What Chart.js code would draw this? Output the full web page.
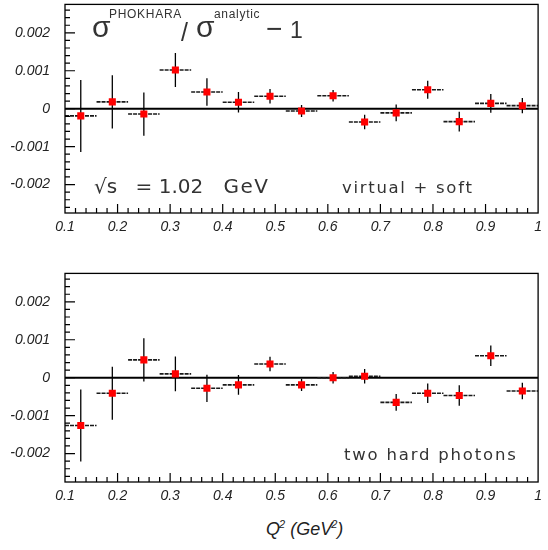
<!DOCTYPE html>
<html>
<head>
<meta charset="utf-8">
<script src="https://cdn.jsdelivr.net/npm/chart.js@4.4.1/dist/chart.umd.min.js"></script>
<style>
    body {
        margin: 0;
        background: #fff;
        width: 548px;
        height: 550px;
        overflow: hidden;
        position: relative;
        font-family: 'DejaVu Sans', sans-serif;
        color: #333;
    }

    canvas {
        position: absolute;
        left: 0;
    }

    #top-canvas {
        top: -19px;
    }

    #bottom-canvas {
        top: 250px;
    }

    .label {
        position: absolute;
        white-space: nowrap;
        line-height: 1;
    }

    .sym {
        font-family: 'Liberation Sans', Arial, sans-serif;
    }
</style>
</head>
<body>
<canvas id="top-canvas" width="548" height="259"></canvas>
<canvas id="bottom-canvas" width="548" height="259"></canvas>

<div class="label sym" style="left: 92px; top: 12px; font-size: 30px;">σ</div>
<div class="label sym" style="left: 109px; top: 8px; font-size: 12px; letter-spacing: 0.7px;">PHOKHARA</div>
<div class="label sym" style="left: 181px; top: 20px; font-size: 25px;">/</div>
<div class="label sym" style="left: 196px; top: 12px; font-size: 30px;">σ</div>
<div class="label sym" style="left: 214px; top: 8px; font-size: 12px; letter-spacing: 0.7px;">analytic</div>
<div class="label sym" style="left: 266px; top: 15px; font-size: 28px;">−</div>
<div class="label sym" style="left: 290px; top: 19px; font-size: 23px;">1</div>

<div class="label" style="left: 94px; top: 176px; font-size: 20px;">√s <span style="margin-left: 12px;">=</span> 1.02 <span style="margin-left: 14px; letter-spacing: 1.5px;">GeV</span></div>
<div class="label" style="left: 342px; top: 180px; font-size: 16.5px; letter-spacing: 1.7px;">virtual + soft</div>
<div class="label" style="left: 344px; top: 447px; font-size: 16.5px; letter-spacing: 1.8px;">two hard photons</div>

<div class="label sym" style="left: 266px; top: 519px; font-size: 18px; font-style: italic; color: #222;">Q<sup style="font-size: 11px; margin-left: -1px;">2</sup> (GeV<sup style="font-size: 11px; margin-left: -1px;">2</sup>)</div>

<script>
let binCenters = [0.13, 0.19, 0.25, 0.31, 0.37, 0.43, 0.49, 0.55, 0.61, 0.67, 0.73, 0.79, 0.85, 0.91, 0.97];
let binHalfWidth = 0.03;

let virtualSoft = [-0.00019, 0.00018, -0.00014, 0.00102, 0.00044, 0.00017, 0.00033, -0.00006, 0.00034, -0.00035, -0.00011, 0.00050, -0.00034, 0.00014, 0.00008];
let virtualSoftErr = [0.00095, 0.00070, 0.00057, 0.00045, 0.00036, 0.00027, 0.00019, 0.00016, 0.00015, 0.00019, 0.00022, 0.00024, 0.00026, 0.00025, 0.00020];

let twoHard = [-0.00126, -0.00041, 0.00047, 0.00010, -0.00028, -0.00019, 0.00036, -0.00019, 0.00000, 0.00004, -0.00065, -0.00041, -0.00047, 0.00058, -0.00035];
let twoHardErr = [0.00095, 0.00070, 0.00057, 0.00046, 0.00036, 0.00026, 0.00019, 0.00016, 0.00015, 0.00019, 0.00022, 0.00026, 0.00027, 0.00027, 0.00022];

let xTickValues = [0.1, 0.2, 0.3, 0.4, 0.5, 0.6, 0.7, 0.8, 0.9, 1];
let xTickLabels = ['0.1', '0.2', '0.3', '0.4', '0.5', '0.6', '0.7', '0.8', '0.9', '1'];
let yTickValues = [-0.002, -0.001, 0, 0.001, 0.002];
let yTickLabels = ['-0.002', '-0.001', '0', '0.001', '0.002'];

let yLimit = 0.00275;


// ROOT style frame with ticks pointing into the plot
const rootFrame = {
    id: 'rootFrame',
    afterDraw(chart) {
        const ctx = chart.ctx;
        const area = chart.chartArea;
        const x = chart.scales.x;
        const y = chart.scales.y;

        ctx.save();
        ctx.strokeStyle = '#000';
        ctx.lineWidth = 1.3;
        ctx.strokeRect(area.left, area.top, area.right - area.left, area.bottom - area.top);

        ctx.lineWidth = 1.2;
        ctx.beginPath();
        for (let k = -13; k <= 13; k++) {
            let py = y.getPixelForValue(k * 0.0002);
            if (py < area.top + 1 || py > area.bottom - 1) continue;
            let len = k % 5 == 0 ? 10 : 5;
            ctx.moveTo(area.left, py);
            ctx.lineTo(area.left + len, py);
        }
        for (let k = 6; k < 50; k++) {
            let px = x.getPixelForValue(k * 0.02);
            let len = k % 5 == 0 ? 9 : 5;
            ctx.moveTo(px, area.bottom);
            ctx.lineTo(px, area.bottom - len);
        }
        ctx.stroke();
        ctx.restore();
    }
};


function errorBars(values, errors) {
    let horizontal = [];
    let vertical = [];
    for (let i = 0; i < binCenters.length; i++) {
        let c = binCenters[i];
        horizontal.push({ x: c - binHalfWidth, y: values[i] }, { x: c + binHalfWidth, y: values[i] }, { x: c, y: null });
        vertical.push({ x: c, y: values[i] - errors[i] }, { x: c, y: values[i] + errors[i] }, { x: c, y: null });
    }
    return { horizontal, vertical };
}


function drawPanel(canvasId, values, errors) {
    let bars = errorBars(values, errors);
    let points = binCenters.map((c, i) => ({ x: c, y: values[i] }));

    new Chart(document.getElementById(canvasId), {
        type: 'scatter',
        data: {
            datasets: [
                {
                    data: points,
                    pointStyle: 'rect',
                    pointRadius: 5,
                    pointBorderWidth: 0,
                    backgroundColor: '#ff0000',
                    showLine: false
                },
                {
                    data: bars.vertical,
                    showLine: true,
                    spanGaps: false,
                    pointRadius: 0,
                    borderColor: '#000',
                    borderWidth: 1.3
                },
                {
                    data: bars.horizontal,
                    showLine: true,
                    spanGaps: false,
                    pointRadius: 0,
                    borderColor: '#1a1a1a',
                    borderWidth: 1.6,
                    borderDash: [4, 1]
                },
                {
                    data: [{ x: xTickValues[0], y: 0 }, { x: xTickValues[xTickValues.length - 1], y: 0 }],
                    showLine: true,
                    pointRadius: 0,
                    borderColor: '#000',
                    borderWidth: 2
                }
            ]
        },
        options: {
            responsive: false,
            animation: false,
            events: [],
            layout: {
                padding: { left: 0, right: 5, top: 5, bottom: 0 }
            },
            plugins: {
                legend: { display: false },
                tooltip: { enabled: false }
            },
            scales: {
                x: {
                    type: 'linear',
                    min: xTickValues[0],
                    max: xTickValues[xTickValues.length - 1],
                    grid: { display: false, drawTicks: false },
                    border: { display: false },
                    afterFit: (scale) => { scale.height = 27; },
                    afterBuildTicks: (scale) => { scale.ticks = xTickValues.map(v => ({ value: v })); },
                    ticks: {
                        autoSkip: false,
                        maxRotation: 0,
                        padding: 6,
                        color: '#222',
                        font: { family: "'Liberation Sans', Arial, sans-serif", size: 14, style: 'italic' },
                        callback: (value, index) => xTickLabels[index]
                    }
                },
                y: {
                    type: 'linear',
                    min: -yLimit,
                    max: yLimit,
                    grid: { display: false, drawTicks: false },
                    border: { display: false },
                    afterFit: (scale) => { scale.width = 65; },
                    afterBuildTicks: (scale) => { scale.ticks = yTickValues.map(v => ({ value: v })); },
                    ticks: {
                        autoSkip: false,
                        padding: 15,
                        color: '#222',
                        font: { family: "'Liberation Sans', Arial, sans-serif", size: 14, style: 'italic' },
                        callback: (value, index) => yTickLabels[index]
                    }
                }
            }
        },
        plugins: [rootFrame]
    });
}


drawPanel('top-canvas', virtualSoft, virtualSoftErr);
drawPanel('bottom-canvas', twoHard, twoHardErr);
</script>
</body>
</html>
